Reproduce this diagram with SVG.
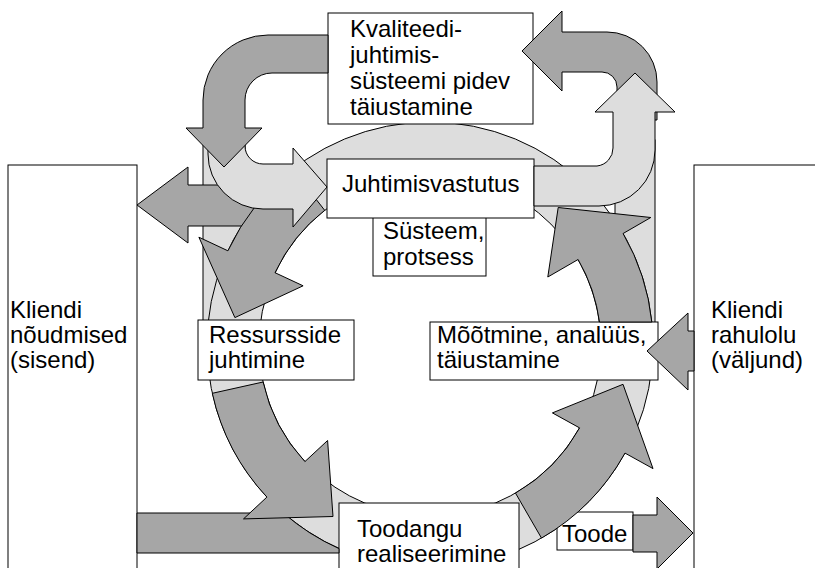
<svg xmlns="http://www.w3.org/2000/svg" width="815" height="568" viewBox="0 0 815 568">
<style>
.box{fill:#fff;stroke:#000;stroke-width:1}
.dk{fill:#a6a6a6;stroke:#000;stroke-width:1}
.lt{fill:#dddddd;stroke:#000;stroke-width:1}
text{font-family:"Liberation Sans",Arial,sans-serif;font-size:24px;fill:#000}
</style>
<rect width="815" height="568" fill="#fff"/>
<g id="background">
<rect class="lt" x="203" y="140" width="42" height="190"/>
<rect class="lt" x="615" y="140" width="40" height="190"/>
<circle class="lt" cx="430" cy="345" r="223"/>
<circle fill="#fff" stroke="#000" stroke-width="1" cx="430" cy="345" r="171"/>
</g>
<g id="n-input">
<rect class="box" x="8" y="165" width="129" height="410"/>
<text x="10" y="318">Kliendi</text>
<text x="10" y="343">nõudmised</text>
<text x="10" y="368">(sisend)</text>
</g>
<g id="n-output">
<rect class="box" x="694" y="165" width="130" height="410"/>
<text x="711" y="318">Kliendi</text>
<text x="711" y="343">rahulolu</text>
<text x="711" y="368">(väljund)</text>
</g>
<g id="n-kvaliteet">
<rect class="box" x="328" y="13" width="205" height="111"/>
<text x="350" y="37">Kvaliteedi-</text>
<text x="350" y="63">juhtimis-</text>
<text x="350" y="89">süsteemi pidev</text>
<text x="350" y="115">täiustamine</text>
</g>
<g id="n-systeem">
<rect class="box" x="373" y="210" width="113" height="66"/>
<text x="383" y="239">Süsteem,</text>
<text x="383" y="265">protsess</text>
</g>
<g id="n-juhtimisvastutus">
<rect class="box" x="327" y="159" width="207" height="59"/>
<text x="342" y="192">Juhtimisvastutus</text>
</g>
<g id="n-ressursid">
<rect class="box" x="198" y="320" width="156" height="60"/>
<text x="209" y="343">Ressursside</text>
<text x="209" y="368">juhtimine</text>
</g>
<g id="n-mootmine">
<rect class="box" x="430" y="322" width="228" height="58"/>
<text x="437" y="343">Mõõtmine, analüüs,</text>
<text x="437" y="368">täiustamine</text>
</g>
<g id="n-toodang">
<rect class="box" x="339" y="503" width="180" height="72"/>
<text x="357" y="537">Toodangu</text>
<text x="357" y="562">realiseerimine</text>
</g>
<g id="n-toode">
<rect class="box" x="557" y="512" width="76" height="38"/>
<text x="562" y="542">Toode</text>
</g>
<g id="connectors">
<path class="dk" d="M260,185 L188,185 L188,167 L137,205 L188,243 L188,226 L260,226 Z"/>
<path class="dk" d="M137,513 L283.4,513 A223,223 0 0 0 339,548.6 L339,553 L137,553 Z"/>
<path class="dk" d="M292.7,169.3 A223,223 0 0 0 227.9,250.8 L198.9,237.2 L234.9,317.6 L303.1,285.8 L275,272.7 A171,171 0 0 1 324.7,210.3 Z"/>
<path class="dk" d="M212.3,393.3 A223,223 0 0 0 266.9,497.1 L243.5,518.9 L333,516.5 L327.6,440.5 L304.9,461.6 A171,171 0 0 1 263.1,382 Z"/>
<path class="dk" d="M541.5,538.1 A223,223 0 0 0 625,453.1 L653,468.6 L623,384.3 L552.4,412.9 L579.6,427.9 A171,171 0 0 1 515.5,493.1 Z"/>
<path class="dk" d="M651.8,322 A223,223 0 0 0 623.1,233.5 L650.8,217.5 L558.2,207.5 L547.8,277 L578.1,259.5 A171,171 0 0 1 599.5,322 Z"/>
<path class="dk" d="M562,32 L607,32 A50,50 0 0 1 657,82 L657,120 L617,120 L617,87 A15,15 0 0 0 602,72 L562,72 L562,91 L522,51 L562,11 Z"/>
<path class="lt" d="M208,135 L208,154 A55,55 0 0 0 263,209 L293,209 L293,227 L327,187 L293,148 L293,164 L263,164 A18,18 0 0 1 245,146 L245,135 Z"/>
<path class="lt" d="M534,166 L597,166 A18,18 0 0 0 613,148 L613,112 L595,112 L635,73 L675,112 L655,112 L655,150 A56,56 0 0 1 599,206 L534,206 Z"/>
<path class="dk" d="M328,35 L268,35 A65,65 0 0 0 203,100 L203,128 L186,128 L224,167 L262,128 L245,128 L245,100 A27,27 0 0 1 272,73 L328,73 Z"/>
<path class="dk" d="M633,515 L657,515 L657,497 L693,533 L657,569 L657,552 L633,552 Z"/>
<path class="dk" d="M694,331 L688,331 L688,313 L647,351 L688,390 L688,371 L694,371 Z"/>
</g>
</svg>
